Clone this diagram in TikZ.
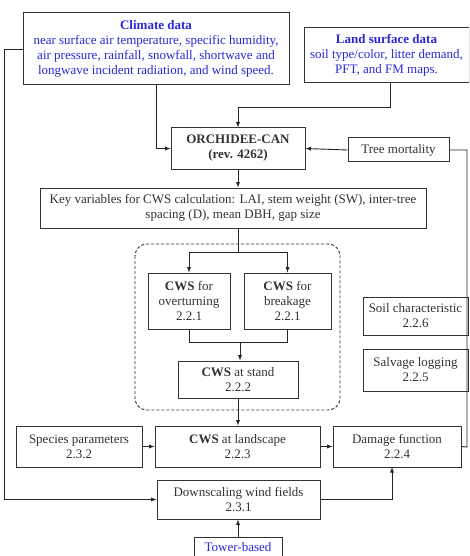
\documentclass[tikz,border=0pt]{standalone}
\usepackage{fontspec}
\setmainfont{Liberation Serif}
\usetikzlibrary{arrows}
\definecolor{txtgray}{RGB}{50,50,50}
\definecolor{datablue}{RGB}{40,40,215}
\tikzset{
  box/.style={draw=black!80, line width=1pt, align=center, inner sep=0pt, text=txtgray,
    font=\fontsize{13}{15}\selectfont},
  link/.style={draw=black!85, line width=0.9pt},
  arr/.style={link, ->, >=latex}
}
\begin{document}
\begin{tikzpicture}[x=1pt, y=-1pt]
  \clip (0,0) rectangle (469,556);
  % input data
  \node [box, minimum width=266, minimum height=72, text=datablue] (climate) at (156,49)
    {\textbf{Climate data}\\near surface air temperature, specific humidity,\\air pressure, rainfall, snowfall, shortwave and\\longwave incident radiation, and wind speed.};
  \node [box, minimum width=165, minimum height=55, text=datablue] (land) at (386.5,55.5)
    {\textbf{Land surface data}\\soil type/color, litter demand,\\PFT, and FM maps.};
  % model
  \node [box, minimum width=134, minimum height=41] (orch) at (238,148.5) {\textbf{ORCHIDEE-CAN}\\\textbf{(rev. 4262)}};
  \node [box, minimum width=101, minimum height=24] (tree) at (398.5,150) {Tree mortality};
  \node [box, minimum width=386, minimum height=40] (key) at (233,208)
    {Key variables for CWS calculation: LAI, stem weight (SW), inter-tree\\spacing (D), mean DBH, gap size};
  % CWS at stand level
  \draw [black!80, line width=0.9pt, dash pattern=on 3pt off 2pt, rounded corners=12pt] (135,244) rectangle (340,410);
  \node [box, minimum width=82, minimum height=56] (over) at (189,301) {\textbf{CWS} for\\overturning\\2.2.1};
  \node [box, minimum width=87, minimum height=56] (break) at (287.5,301) {\textbf{CWS} for\\breakage\\2.2.1};
  \node [box, minimum width=120, minimum height=37] (stand) at (238,379.5) {\textbf{CWS} at stand\\2.2.2};
  % right column
  \node [box, minimum width=105, minimum height=38] (soil) at (415.5,316) {Soil characteristic\\2.2.6};
  \node [box, minimum width=105, minimum height=42] (salv) at (415.5,370) {Salvage logging\\2.2.5};
  % landscape level
  \node [box, minimum width=126, minimum height=41] (spec) at (79,446.5) {Species parameters\\2.3.2};
  \node [box, minimum width=165, minimum height=41] (landsc) at (237.5,446.5) {\textbf{CWS} at landscape\\2.2.3};
  \node [box, minimum width=128, minimum height=41] (dmg) at (397,446.5) {Damage function\\2.2.4};
  \node [box, minimum width=163, minimum height=39] (down) at (238.5,499.5) {Downscaling wind fields\\2.3.1};
  \node [box, minimum width=88, minimum height=38, text=datablue] (tower) at (238,556) {Tower-based\\\vphantom{g}};

  \draw [arr] (climate.south) |- (orch.west);
  \draw [arr] (climate.west) -- (4,49) |- (down.west);
  \draw [arr] (land.south) ++(4,0) |- (238,107) -- (orch.north);
  \draw [arr] (tree.west) -- (orch.east);
  \draw [link] (tree.east) -| (467,447) -- (dmg.east);
  \draw [arr] (orch.south) -- (orch.south |- key.north);
  \coordinate (split) at (238,252);
  \coordinate (merge) at (240,342);
  \draw [link] (orch.south |- key.south) -- (split);
  \draw [arr] (split) -| (over.north);
  \draw [arr] (split) -| (break.north);
  \draw [link] (over.south) |- (merge);
  \draw [link] (break.south) |- (merge);
  \draw [arr] (merge) -- (merge |- stand.north);
  \draw [arr] (stand.south) -- (stand.south |- landsc.north);
  \draw [arr] (spec.east) -- (landsc.west);
  \draw [arr] (landsc.east) -- (dmg.west);
  \draw [arr] (down.east) -| (392,467);
  \draw [arr] (tower.north) -- (tower.north |- down.south);
\end{tikzpicture}
\end{document}
